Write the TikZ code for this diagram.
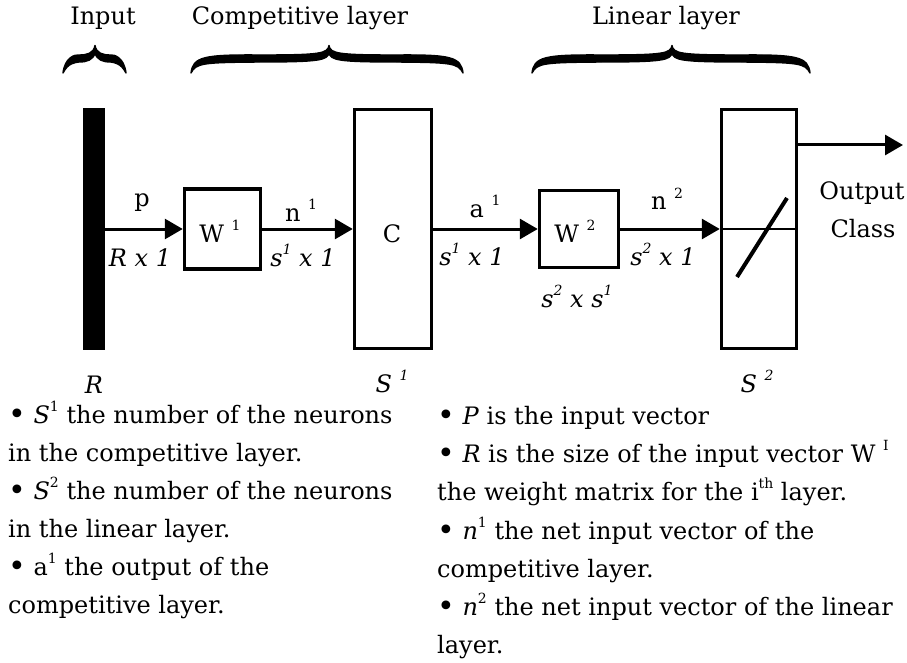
\documentclass[tikz,border=0pt]{standalone}
\usepackage{fontspec}
\setmainfont{DejaVu Serif}
\usetikzlibrary{arrows.meta}
\newcommand{\drawbrace}[3]{%
  \filldraw[bracestyle] (#1,73)
    .. controls ({#1+2},57) and ({#1+12},54.5) .. ({(#1+#2)/2},55)
    .. controls ({#2-8},55) and ({#2-1.5},53.5) .. (#2,45.5)
    .. controls ({#2+1.5},53.5) and ({#2+8},55) .. ({(#2+#3)/2},55)
    .. controls ({#3-12},54.5) and ({#3-2},57) .. (#3,73)
    .. controls ({#3-5},63) and ({#3-12},62.5) .. ({(#2+#3)/2},62)
    .. controls ({#2+8},62) and ({#2+2},60) .. (#2,53)
    .. controls ({#2-2},60) and ({#2-8},62) .. ({(#1+#2)/2},62)
    .. controls ({#1+12},62.5) and ({#1+5},63) .. (#1,73) -- cycle;}
\newcommand{\sups}[1]{\raisebox{0.5em}{\fontsize{14}{14}\selectfont #1}}
\newcommand{\bul}{\raisebox{-0.05em}{\fontsize{30}{30}\selectfont •}}
\begin{document}
\begin{tikzpicture}[x=1pt,y=-1pt,
  font=\fontsize{24}{28}\selectfont,
  box/.style={draw, line width=3.5pt, inner sep=0pt, rectangle},
  arr/.style={line width=3pt, -{Triangle[length=18pt,width=20pt]}},
  lbl/.style={anchor=base, inner sep=0pt},
  txt/.style={anchor=base west, inner sep=0pt},
  bracestyle/.style={line width=1.4pt, line join=round, line cap=round, fill=black, draw=black}]
\useasboundingbox (0,0) rectangle (907,663);
% headings
\node[lbl] (hin) at (103,25) {Input};
\node[lbl] (hcomp) at (300,25) {Competitive layer};
\node[lbl] (hlin) at (666,25) {Linear layer};
% braces
\drawbrace{63}{95}{126}
\drawbrace{191}{329}{463}
\drawbrace{532}{672}{810}
% blocks
\node[fill=black, inner sep=0pt, minimum width=22pt, minimum height=242pt] (bar) at (94,229) {};
\node[box, minimum width=76pt, minimum height=80pt] (w1) at (222.5,229) {};
\node[box, minimum width=77pt, minimum height=239pt] (c) at (393,229) {};
\node[box, minimum width=79pt, minimum height=77pt] (w2) at (579,229) {};
\node[box, minimum width=75pt, minimum height=239pt] (lin) at (759,229) {};
% connectors
\draw[arr] (bar) -- (w1);
\draw[arr] (w1) -- (c);
\draw[arr] (c) -- (w2);
\draw[arr] (w2) -- (lin);
\draw[line width=1.5pt] (lin.west) -- (lin.east);
\coordinate (sl1) at (737,277);
\coordinate (sl2) at (787,198);
\draw[line width=4pt] (sl1) -- (sl2);
\coordinate (outL) at (798,145);
\coordinate (outR) at (903,145);
\draw[arr] (outL) -- (outR);
% labels
\node[lbl] (lp) at (142,207) {p};
\node[lbl] (lr) at (140,266) {\textit{R x 1}};
\node[lbl] (lw1) at (220,242) {W \sups{1}};
\node[lbl] (ln1) at (301,222) {n \sups{1}};
\node[lbl] (ls1) at (303,266) {\textit{s\sups{1} x 1}};
\node[lbl] (lc) at (392,242) {C};
\node[lbl] (la1) at (485,218) {a \sups{1}};
\node[lbl] (ls1b) at (472,265) {\textit{s\sups{1} x 1}};
\node[lbl] (lw2) at (575,242) {W \sups{2}};
\node[lbl] (ln2) at (667,210) {n \sups{2}};
\node[lbl] (ls2) at (663,265) {\textit{s\sups{2} x 1}};
\node[lbl] (ls2s1) at (577,307) {\textit{s\sups{2} x s\sups{1}}};
\node[lbl] (lout) at (862,200) {Output};
\node[lbl] (lcls) at (863,237) {Class};
\node[lbl] (lR) at (94,393) {\textit{R}};
\node[lbl] (lS1) at (392,392) {\textit{S \sups{1}}};
\node[lbl] (lS2) at (757,392) {\textit{S \sups{2}}};
% left text
\node[txt] (t1) at (8,423) {\bul\ \textit{S}\sups{1} the number of the neurons};
\node[txt] (t2) at (8,461) {in the competitive layer.};
\node[txt] (t3) at (8,499) {\bul\ \textit{S}\sups{2} the number of the neurons};
\node[txt] (t4) at (8,537) {in the linear layer.};
\node[txt] (t5) at (8,575) {\bul\ a\sups{1} the output of the};
\node[txt] (t6) at (8,613) {competitive layer.};
% right text
\node[txt] (r1) at (437,424) {\bul\ \textit{P} is the input vector};
\node[txt] (r2) at (437,462) {\bul\ \textit{R} is the size of the input vector W \sups{I}};
\node[txt] (r3) at (437,500) {the weight matrix for the i\sups{th} layer.};
\node[txt] (r4) at (437,539) {\bul\ \textit{n}\sups{1} the net input vector of the};
\node[txt] (r5) at (437,577) {competitive layer.};
\node[txt] (r6) at (437,615) {\bul\ \textit{n}\sups{2} the net input vector of the linear};
\node[txt] (r7) at (437,653) {layer.};
\end{tikzpicture}
\end{document}
